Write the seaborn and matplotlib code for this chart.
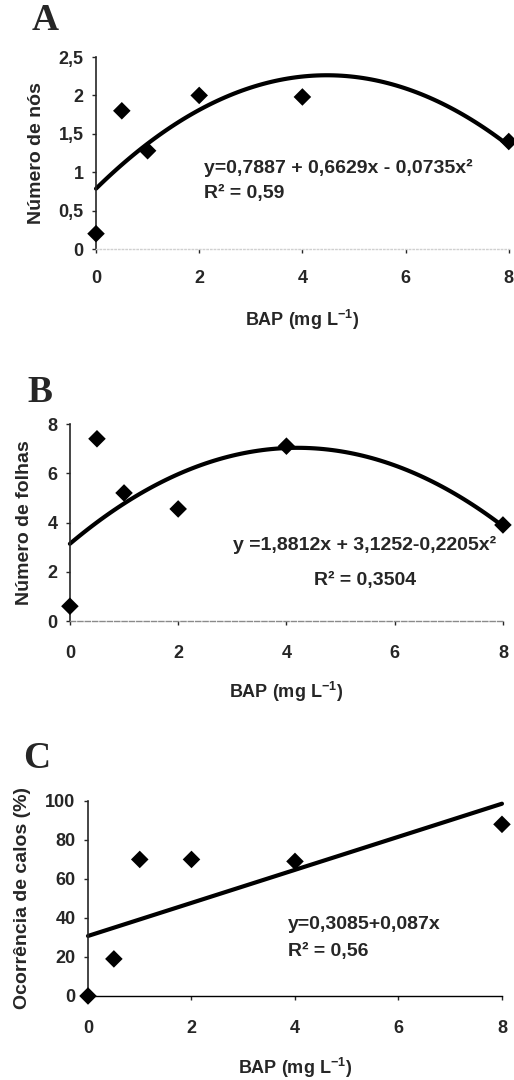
import numpy as np
import pandas as pd
import seaborn as sns
import matplotlib.pyplot as plt

# BAP doses (mg/L)
bap = [0, 0.5, 1, 2, 4, 8]

# values
nos = [0.2, 1.8, 1.28, 2.0, 1.98, 1.4]
folhas = [0.6, 7.4, 5.2, 4.55, 7.1, 3.9]
calos = [0, 19, 70, 70, 69, 88]

sns.set_style("ticks")
plt.rcParams["font.family"] = ["Liberation Sans", "DejaVu Sans"]
plt.rcParams["font.weight"] = "bold"
plt.rcParams["mathtext.fontset"] = "custom"
plt.rcParams["mathtext.rm"] = "Liberation Sans:bold"
plt.rcParams["mathtext.bf"] = "Liberation Sans:bold"
plt.rcParams["mathtext.it"] = "Liberation Sans:bold"

FS = 13

fig = plt.figure(figsize=(5.14, 10.8), dpi=100)

panels = [
    dict(y=nos, order=2, pos=[0.1868, 0.7694, 0.803, 0.1778], ylim=(0, 2.5),
         yticks=[0, 0.5, 1, 1.5, 2, 2.5], ylabel="Número de nós", letter="A",
         lxy=(32, 21), xpad=12, xlpad=15,
         eq=["y=0,7887 + 0,6629x - 0,0735x²", "R² = 0,59"], eqx=2.1, eqy=[1.055, 0.73],
         ha="left", bottom=(":", "#d0d0d0")),
    dict(y=folhas, order=2, pos=[0.136, 0.425, 0.8425, 0.1824], ylim=(0, 8),
         yticks=[0, 2, 4, 6, 8], ylabel="Número de folhas", letter="B",
         lxy=(27, 393), xpad=14, xlpad=13,
         eq=["y =1,8812x + 3,1252-0,2205x²", "R² = 0,3504"], eqx=5.45, eqy=[3.09, 1.66],
         ha="center", bottom=("--", "#8a8a8a")),
    dict(y=calos, order=1, pos=[0.1712, 0.0778, 0.8054, 0.1806], ylim=(0, 100),
         yticks=[0, 20, 40, 60, 80, 100], ylabel="Ocorrência de calos (%)", letter="C",
         lxy=(23, 759), xpad=14, xlpad=14,
         eq=["y=0,3085+0,087x", "R² = 0,56"], eqx=3.86, eqy=[36.9, 22.6],
         ha="left", bottom=("-", "black")),
]

for p in panels:
    ax = fig.add_axes(p["pos"])
    df = pd.DataFrame({"bap": bap, "val": p["y"]})
    sns.regplot(data=df, x="bap", y="val", order=p["order"], ci=None, ax=ax,
                color="black", marker="D",
                scatter_kws=dict(s=80, alpha=1, clip_on=False, zorder=3, edgecolors="none"),
                line_kws=dict(lw=3, clip_on=False))
    ax.set_xlim(0, 8)
    ax.set_ylim(*p["ylim"])
    ax.set_xticks([0, 2, 4, 6, 8])
    ax.set_yticks(p["yticks"])
    ax.set_yticklabels([f"{v:g}".replace(".", ",") for v in p["yticks"]])
    ax.tick_params(labelsize=FS, length=3, width=1, pad=6)
    ax.tick_params(axis="x", pad=p["xpad"])
    sns.despine(ax=ax)
    ax.spines["left"].set_linewidth(1.2)
    ls, col = p["bottom"]
    ax.spines["bottom"].set_linestyle(ls)
    ax.spines["bottom"].set_color(col)
    ax.spines["bottom"].set_linewidth(1.0)
    ax.set_xlabel(r"BAP (mg L$^{-1}$)", fontsize=FS, fontweight="bold", labelpad=p["xlpad"])
    ax.set_ylabel(p["ylabel"], fontsize=14, fontweight="bold", labelpad=10)
    for txt, yy in zip(p["eq"], p["eqy"]):
        ax.text(p["eqx"], yy, txt, ha=p["ha"], va="center", fontsize=14,
                fontweight="bold")
    lx, ly = p["lxy"]
    fig.text(lx / 514, 1 - ly / 1080, p["letter"], fontsize=27, fontweight="bold",
             family=["Liberation Serif"], ha="left", va="center")

fig.savefig("out.png", dpi=100)
